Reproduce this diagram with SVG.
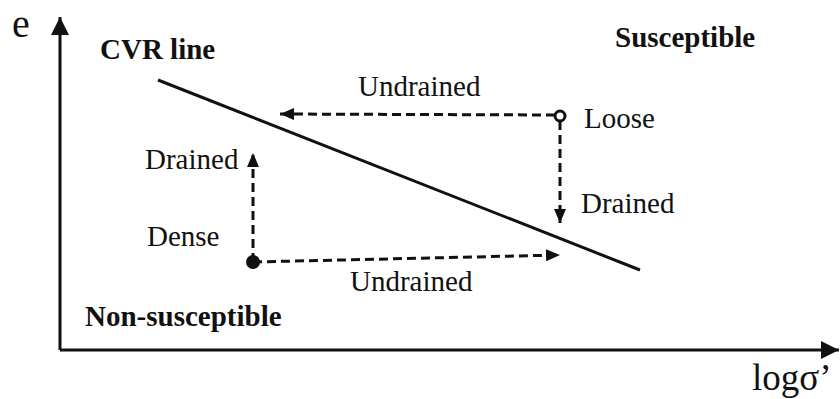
<svg xmlns="http://www.w3.org/2000/svg" width="840" height="399" viewBox="0 0 840 399">
<style>
text{font-family:"Liberation Serif","Times New Roman",serif;fill:#111}
.r{font-size:29px}
.b{font-size:29px;font-weight:bold}
.axis{stroke:#111;stroke-width:3;fill:none}
.dash{stroke:#111;stroke-width:3;fill:none;stroke-dasharray:9 5}
</style>
<defs>
<marker id="ah" viewBox="0 0 14 12" refX="14" refY="6" markerWidth="14" markerHeight="12" markerUnits="userSpaceOnUse" orient="auto"><path d="M0,0 L14,6 L0,12 z" fill="#111"/></marker>
<marker id="axh" viewBox="0 0 18 18" refX="18" refY="9" markerWidth="18" markerHeight="18" markerUnits="userSpaceOnUse" orient="auto"><path d="M0,0 L18,9 L0,18 z" fill="#111"/></marker>
</defs>
<g id="axes">
<line class="axis" x1="60" y1="350" x2="60" y2="17" marker-end="url(#axh)"/>
<line class="axis" x1="60" y1="350" x2="839" y2="350" marker-end="url(#axh)"/>
<text x="12" y="37" style="font-size:40px">e</text>
<text x="752" y="390" style="font-size:37px">logσ’</text>
</g>
<g id="cvr-line">
<line x1="158" y1="80" x2="640" y2="270" stroke="#111" stroke-width="3"/>
<text class="b" x="100" y="59">CVR line</text>
</g>
<g id="regions">
<text class="b" x="615" y="47">Susceptible</text>
<text class="b" x="85" y="326">Non-susceptible</text>
</g>
<g id="connectors">
<line class="dash" x1="555" y1="115" x2="280" y2="114" marker-end="url(#ah)"/>
<line class="dash" x1="560" y1="121" x2="560" y2="223" marker-end="url(#ah)"/>
<line class="dash" x1="253" y1="262" x2="253" y2="153" marker-end="url(#ah)"/>
<line class="dash" x1="253" y1="262" x2="560" y2="255" marker-end="url(#ah)"/>
</g>
<g id="loose">
<circle cx="560" cy="116" r="5" fill="#fff" stroke="#111" stroke-width="3"/>
<text class="r" x="584" y="128">Loose</text>
</g>
<g id="dense">
<circle cx="253" cy="262" r="7" fill="#111"/>
<text class="r" x="147" y="246">Dense</text>
</g>
<g id="labels">
<text class="r" x="358" y="96">Undrained</text>
<text class="r" x="581" y="213">Drained</text>
<text class="r" x="145" y="169">Drained</text>
<text class="r" x="350" y="291">Undrained</text>
</g>
</svg>
